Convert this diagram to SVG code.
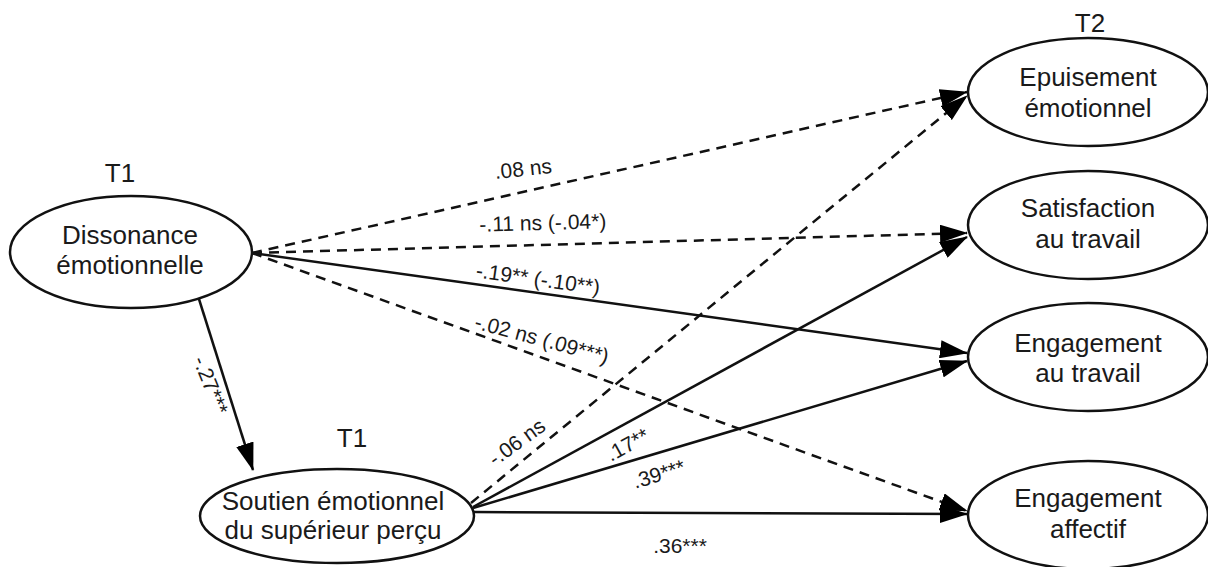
<svg xmlns="http://www.w3.org/2000/svg" width="1208" height="567" viewBox="0 0 1208 567">
<style>
.node{fill:#fff;stroke:#111;stroke-width:2.5}
.nt{font-family:"Liberation Sans",Arial,sans-serif;font-size:26px;fill:#1a1a1a;text-anchor:middle}
.lb{font-family:"Liberation Sans",Arial,sans-serif;font-size:21px;fill:#1a1a1a;text-anchor:middle}
.e{fill:none;stroke:#111;stroke-width:2.5}
.d{stroke-dasharray:10 7}
</style>
<defs>
<marker id="ah" markerUnits="userSpaceOnUse" markerWidth="28" markerHeight="18" refX="27" refY="9" orient="auto">
<path d="M0,0 L28,9 L0,18 z" fill="#000"/>
</marker>
</defs>
<rect width="1208" height="567" fill="#fff"/>
<g id="connectors">
<line class="e d" x1="252" y1="253" x2="967" y2="92" marker-end="url(#ah)"/>
<line class="e d" x1="252" y1="253" x2="967" y2="233" marker-end="url(#ah)"/>
<line class="e" x1="252" y1="253" x2="967" y2="353" marker-end="url(#ah)"/>
<line class="e d" x1="252" y1="253" x2="967" y2="511" marker-end="url(#ah)"/>
<line class="e" x1="198" y1="296" x2="253" y2="470" marker-end="url(#ah)"/>
<line class="e d" x1="471" y1="503" x2="967" y2="96" marker-end="url(#ah)"/>
<line class="e" x1="473" y1="507" x2="967" y2="237" marker-end="url(#ah)"/>
<line class="e" x1="473" y1="508" x2="967" y2="361" marker-end="url(#ah)"/>
<line class="e" x1="474" y1="512" x2="967" y2="514" marker-end="url(#ah)"/>
<text class="lb" transform="translate(524,176) rotate(-6)">.08 ns</text>
<text class="lb" transform="translate(543,230) rotate(-1.5)">-.11 ns (-.04*)</text>
<text class="lb" transform="translate(537,286) rotate(8)">-.19** (-.10**)</text>
<text class="lb" transform="translate(540,346) rotate(15)">-.02 ns (.09***)</text>
<text class="lb" transform="translate(204,388) rotate(68)">-.27***</text>
<text class="lb" transform="translate(521,448) rotate(-36)">-.06 ns</text>
<text class="lb" transform="translate(631,451) rotate(-29)">.17**</text>
<text class="lb" transform="translate(661,481) rotate(-17)">.39***</text>
<text class="lb" x="680" y="553">.36***</text>
</g>
<g id="n-dissonance">
<text class="nt" x="120" y="182">T1</text>
<ellipse class="node" cx="131" cy="252" rx="121" ry="56"/>
<text class="nt" x="130" y="244">Dissonance</text>
<text class="nt" x="130" y="274">émotionnelle</text>
</g>
<g id="n-soutien">
<text class="nt" x="352" y="447">T1</text>
<ellipse class="node" cx="337" cy="516" rx="137" ry="47"/>
<text class="nt" x="333" y="510">Soutien émotionnel</text>
<text class="nt" x="333" y="539">du supérieur perçu</text>
</g>
<g id="n-epuisement">
<text class="nt" x="1090" y="32">T2</text>
<ellipse class="node" cx="1088" cy="92" rx="120" ry="54"/>
<text class="nt" x="1088" y="86">Epuisement</text>
<text class="nt" x="1088" y="117">émotionnel</text>
</g>
<g id="n-satisfaction">
<ellipse class="node" cx="1088" cy="225" rx="120" ry="54"/>
<text class="nt" x="1088" y="217">Satisfaction</text>
<text class="nt" x="1088" y="248">au travail</text>
</g>
<g id="n-engagement-travail">
<ellipse class="node" cx="1088" cy="357" rx="120" ry="54"/>
<text class="nt" x="1088" y="352">Engagement</text>
<text class="nt" x="1088" y="382">au travail</text>
</g>
<g id="n-engagement-affectif">
<ellipse class="node" cx="1088" cy="515" rx="120" ry="54"/>
<text class="nt" x="1088" y="507">Engagement</text>
<text class="nt" x="1088" y="538">affectif</text>
</g>
</svg>
